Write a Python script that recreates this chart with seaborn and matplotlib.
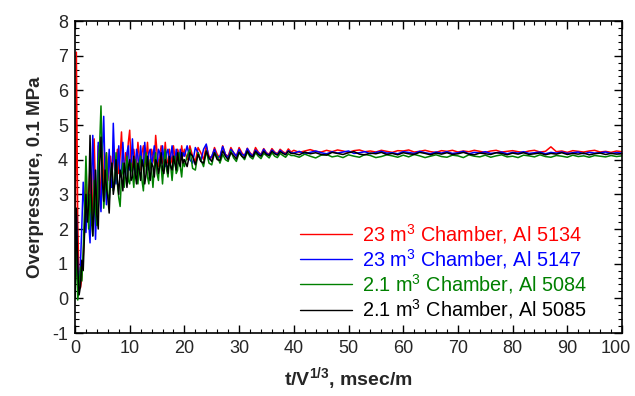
import numpy as np
import pandas as pd
import matplotlib
matplotlib.use("Agg")
import matplotlib.pyplot as plt
import matplotlib.transforms as mtransforms
import seaborn as sns
from matplotlib.ticker import MultipleLocator
from matplotlib.lines import Line2D

# ---- data ----
labels = ["23 m$^3$ Chamber, Al 5134", "23 m$^3$ Chamber, Al 5147",
          "2.1 m$^3$ Chamber, Al 5084", "2.1 m$^3$ Chamber, Al 5085"]
colors = ["#ff0000", "#0000ff", "#008000", "#000000"]
x_ticks = [0, 10, 20, 30, 40, 50, 60, 70, 80, 90, 100]

# sampling of the three segments: (start, step)
seg_early = (0.0, 0.25)
seg_mid = (20.0, 0.5)
seg_late = (40.0, 1.0)

red_early = [0.0, 7.1, 2.2, 0.4, 0.3, 0.6, 1.2, 2.0, 3.3, 2.4, 3.0, 3.8, 2.1, 2.9, 4.6, 3.1,
             2.5, 4.4, 3.6, 2.6, 4.5, 3.2, 3.9, 4.2, 3.4, 3.8, 4.1, 3.5, 4.4, 3.7, 3.9, 4.3,
             3.6, 4.1, 4.8, 3.8, 3.7, 4.2, 3.9, 4.5, 4.85, 3.9, 3.7, 4.3, 4.0, 3.8, 4.5, 4.1,
             3.7, 4.2, 4.4, 3.8, 4.0, 4.5, 3.9, 3.8, 4.3, 4.1, 3.9, 4.7, 4.2, 3.8, 4.1, 4.4,
             3.9, 4.0, 4.5, 4.0, 3.9, 4.3, 4.1, 3.9, 4.4, 4.1, 3.9, 4.3, 4.2, 3.9, 4.4, 4.1]
blue_early = [0.0, 2.4, 0.8, 0.2, 1.0, 2.1, 3.35, 2.6, 1.9, 2.8, 2.2, 1.6, 3.2, 4.7, 3.3, 1.7,
              2.9, 4.5, 3.0, 2.5, 4.2, 5.25, 3.6, 2.7, 3.5, 4.3, 3.4, 3.2, 5.05, 3.9, 3.3, 3.8,
              4.4, 3.5, 3.6, 4.5, 3.8, 3.5, 4.2, 4.4, 3.7, 3.9, 4.6, 3.8, 3.6, 4.3, 4.1, 3.7,
              4.4, 3.9, 3.8, 4.5, 4.0, 3.7, 4.2, 4.3, 3.8, 4.1, 4.4, 3.9, 3.8, 4.3, 4.2, 3.9,
              4.4, 4.0, 3.8, 4.2, 4.3, 3.9, 4.1, 4.4, 4.0, 3.9, 4.3, 4.1, 3.9, 4.3, 4.0, 4.2]
green_early = [0.0, 1.5, -0.05, 0.3, 0.9, 0.5, 1.4, 2.6, 4.1, 2.9, 2.0, 3.0, 2.3, 1.8, 3.4, 2.5,
               2.1, 3.9, 4.4, 5.55, 3.8, 2.6, 3.1, 4.2, 3.0, 2.8, 3.6, 3.9, 3.1, 3.4, 4.2, 3.3,
               2.9, 2.65, 3.5, 3.9, 3.2, 3.6, 4.1, 3.4, 3.3, 3.9, 3.6, 3.2, 4.0, 3.7, 3.3, 3.9,
               4.1, 3.4, 3.1, 3.8, 4.2, 3.5, 3.3, 4.0, 3.7, 3.2, 3.8, 4.2, 3.6, 3.4, 4.0, 3.8,
               3.3, 3.9, 4.3, 3.7, 3.5, 4.0, 3.8, 3.4, 3.9, 4.1, 3.6, 3.7, 4.2, 3.8, 3.5, 4.0]
black_early = [0.0, 2.6, 0.9, 0.1, 0.35, 1.1, 0.8, 1.9, 3.0, 2.2, 2.7, 4.7, 3.0, 1.8, 2.6, 3.7,
               2.4, 2.0, 3.8, 4.65, 3.4, 2.8, 3.7, 3.2, 2.9, 2.46, 3.5, 3.9, 3.0, 3.3, 4.0, 3.4,
               3.0, 3.7, 3.5, 3.1, 3.9, 3.6, 3.2, 3.8, 4.0, 3.4, 3.5, 4.1, 3.6, 3.3, 3.9, 3.7,
               3.4, 4.0, 3.8, 3.3, 3.6, 4.1, 3.7, 3.4, 3.9, 3.8, 3.5, 4.0, 3.9, 3.6, 3.8, 4.2,
               3.7, 3.6, 4.0, 3.9, 3.6, 4.1, 3.8, 3.7, 4.1, 3.9, 3.7, 4.2, 3.9, 3.8, 4.2, 3.9]

red_mid = [4.3, 4.0, 4.4, 4.1, 3.95, 4.35, 4.2, 4.0, 4.4, 4.1,
           4.05, 4.35, 4.15, 4.05, 4.4, 4.15, 4.1, 4.35, 4.2, 4.1,
           4.35, 4.2, 4.1, 4.33, 4.2, 4.12, 4.35, 4.22, 4.15, 4.32,
           4.2, 4.16, 4.32, 4.22, 4.17, 4.3, 4.23, 4.18, 4.31, 4.22]
blue_mid = [4.1, 4.4, 4.0, 3.9, 4.35, 4.2, 3.95, 4.3, 4.45, 4.0,
            4.1, 4.3, 4.05, 4.1, 4.38, 4.15, 4.05, 4.3, 4.2, 4.1,
            4.3, 4.15, 4.12, 4.32, 4.18, 4.1, 4.28, 4.2, 4.13, 4.3,
            4.18, 4.14, 4.28, 4.2, 4.15, 4.27, 4.2, 4.16, 4.26, 4.2]
green_mid = [3.8, 4.1, 4.3, 3.75, 3.7, 4.2, 4.0, 3.8, 4.25, 3.9,
             3.85, 4.2, 4.1, 3.9, 4.15, 4.0, 3.95, 4.25, 4.05, 3.95,
             4.2, 4.1, 4.0, 4.22, 4.08, 4.02, 4.2, 4.1, 4.03, 4.18,
             4.12, 4.05, 4.2, 4.1, 4.06, 4.18, 4.12, 4.07, 4.17, 4.12]
black_mid = [4.0, 3.8, 4.2, 4.1, 3.85, 4.15, 3.95, 3.9, 4.25, 4.05,
             3.95, 4.2, 4.0, 3.98, 4.25, 4.1, 4.0, 4.2, 4.12, 4.02,
             4.22, 4.1, 4.05, 4.25, 4.12, 4.08, 4.24, 4.15, 4.1, 4.24,
             4.15, 4.12, 4.24, 4.17, 4.13, 4.23, 4.18, 4.14, 4.24, 4.18]

red_late = [4.27, 4.21, 4.25, 4.29, 4.24, 4.22, 4.27, 4.23, 4.28, 4.25,
            4.21, 4.26, 4.28, 4.23, 4.25, 4.22, 4.27, 4.24, 4.21, 4.26,
            4.25, 4.28, 4.22, 4.24, 4.27, 4.23, 4.21, 4.26, 4.24, 4.27,
            4.22, 4.25, 4.23, 4.27, 4.24, 4.21, 4.25, 4.27, 4.22, 4.24,
            4.26, 4.23, 4.21, 4.25, 4.27, 4.22, 4.24, 4.37, 4.23, 4.25,
            4.21, 4.26, 4.24, 4.22, 4.25, 4.27, 4.22, 4.24, 4.21, 4.25, 4.23]
blue_late = [4.19, 4.24, 4.17, 4.21, 4.25, 4.2, 4.17, 4.23, 4.19, 4.22,
             4.25, 4.18, 4.2, 4.23, 4.17, 4.21, 4.24, 4.19, 4.2, 4.17,
             4.23, 4.21, 4.18, 4.24, 4.2, 4.17, 4.22, 4.19, 4.23, 4.18,
             4.2, 4.24, 4.17, 4.21, 4.19, 4.23, 4.18, 4.2, 4.22, 4.17,
             4.21, 4.19, 4.23, 4.18, 4.2, 4.22, 4.17, 4.21, 4.19, 4.22,
             4.18, 4.2, 4.22, 4.17, 4.21, 4.19, 4.2, 4.22, 4.18, 4.2, 4.19]
green_late = [4.12, 4.07, 4.16, 4.1, 4.05, 4.13, 4.15, 4.08, 4.11, 4.06,
              4.14, 4.1, 4.07, 4.15, 4.12, 4.06, 4.09, 4.14, 4.11, 4.07,
              4.13, 4.08, 4.15, 4.11, 4.06, 4.1, 4.14, 4.09, 4.07, 4.13,
              4.11, 4.06, 4.14, 4.1, 4.08, 4.13, 4.07, 4.11, 4.14, 4.08,
              4.1, 4.06, 4.13, 4.11, 4.08, 4.14, 4.09, 4.07, 4.12, 4.1,
              4.07, 4.13, 4.09, 4.11, 4.07, 4.12, 4.1, 4.08, 4.12, 4.09, 4.11]
black_late = [4.18, 4.14, 4.22, 4.17, 4.2, 4.15, 4.13, 4.21, 4.18, 4.15,
              4.2, 4.23, 4.16, 4.14, 4.19, 4.17, 4.21, 4.15, 4.18, 4.14,
              4.2, 4.17, 4.15, 4.21, 4.18, 4.14, 4.19, 4.16, 4.2, 4.15,
              4.17, 4.21, 4.16, 4.14, 4.19, 4.17, 4.15, 4.2, 4.18, 4.14,
              4.19, 4.16, 4.2, 4.15, 4.17, 4.19, 4.14, 4.18, 4.16, 4.2,
              4.15, 4.18, 4.16, 4.19, 4.14, 4.17, 4.19, 4.15, 4.18, 4.16, 4.17]

series = [(red_early, red_mid, red_late), (blue_early, blue_mid, blue_late),
          (green_early, green_mid, green_late), (black_early, black_mid, black_late)]


def build(parts):
    ts, vs = [], []
    for (start, step), vals in zip([seg_early, seg_mid, seg_late], parts):
        ts.append(start + step * np.arange(len(vals)))
        vs.append(np.asarray(vals, dtype=float))
    return np.concatenate(ts), np.concatenate(vs)


frames = []
for lab, parts in zip(labels, series):
    t, v = build(parts)
    frames.append(pd.DataFrame({"t": t, "p": v, "series": lab}))
df = pd.concat(frames, ignore_index=True)

# ---- style ----
sns.set_style("ticks")
plt.rcParams["font.family"] = ["Liberation Sans", "DejaVu Sans"]
plt.rcParams["mathtext.fontset"] = "custom"
plt.rcParams["mathtext.rm"] = "Liberation Sans"
plt.rcParams["mathtext.bf"] = "Liberation Sans:bold"
plt.rcParams["axes.unicode_minus"] = False

fig = plt.figure(figsize=(6.35, 3.96), dpi=100)
ax = fig.add_axes([75 / 635, 1 - 333 / 396, (622 - 75) / 635, (333 - 21) / 396])

sns.lineplot(data=df, x="t", y="p", hue="series", palette=dict(zip(labels, colors)),
             hue_order=labels, estimator=None, sort=False, linewidth=1.1, ax=ax, legend=False)

ax.set_xlim(0, 100)
ax.set_ylim(-1, 8)
ax.set_xticks(x_ticks)
ax.set_xticklabels([str(v) for v in x_ticks])
ax.xaxis.set_minor_locator(MultipleLocator(2))
ax.yaxis.set_major_locator(MultipleLocator(1))
ax.yaxis.set_minor_locator(MultipleLocator(0.2))
ax.tick_params(which="both", direction="in", top=True, right=True, labelsize=13, color="black")
ax.tick_params(which="major", length=6, width=1.0, pad=5)
ax.tick_params(which="minor", length=3, width=0.8)
for s in ax.spines.values():
    s.set_linewidth(1.2)
    s.set_color("black")

ax.set_xlabel("t/V$^{\\mathbf{1/3}}$, msec/m", fontsize=14, fontweight="bold", labelpad=6)
ax.set_ylabel("Overpressure, 0.1 MPa", fontsize=13.5, fontweight="bold", labelpad=6)

# keep the last x tick label ("100") inside the canvas: right-align it just left of the edge
last_tick = ax.xaxis.get_major_ticks()[-1]
last_tick.label1.set_horizontalalignment("right")
last_tick.label1.set_transform(last_tick.label1.get_transform()
                               + mtransforms.ScaledTranslation(9 / 100, 0, fig.dpi_scale_trans))

handles = [Line2D([], [], color=c, linewidth=1.0) for c in colors]
leg = ax.legend(handles, labels, loc="center left", bbox_to_anchor=((300 - 75) / 547, (333 - 271.5) / 312),
                frameon=False, fontsize=14.3, handlelength=2.6, handletextpad=0.5,
                labelspacing=0.07, labelcolor=colors, borderaxespad=0.0, borderpad=0.0)

fig.savefig("out.png", dpi=100, facecolor="white")
